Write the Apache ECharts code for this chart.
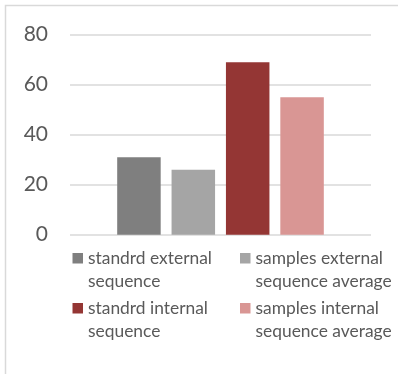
<!DOCTYPE html>
<html>
<head>
<meta charset="utf-8">
<script src="https://cdn.jsdelivr.net/npm/echarts@6/dist/echarts.min.js"></script>
<style>
  html, body { margin: 0; padding: 0; background: #fff; }
  #chart { width: 398px; height: 374px; }
</style>
</head>
<body>
<div id="chart"></div>
<script>
// Sequence comparison: one group, four bars
const categories = ['sequence'];
const seriesNames = [
  'standrd external sequence',
  'samples external sequence average',
  'standrd internal sequence',
  'samples internal sequence average'
];
const seriesValues = [31, 26, 69, 55];
const seriesColors = ['#7f7f7f', '#a5a5a5', '#943634', '#d99694'];
const yTicks = [0, 20, 40, 60, 80];

// Legend labels wrap onto two lines
const legendLines = {
  'standrd external sequence': 'standrd external\nsequence',
  'samples external sequence average': 'samples external\nsequence average',
  'standrd internal sequence': 'standrd internal\nsequence',
  'samples internal sequence average': 'samples internal\nsequence average'
};

const textColor = '#595959';
const gridColor = '#d9d9d9';
const fontFamily = 'Lato, "Noto Sans", sans-serif';

// Square swatch sitting beside the first text line of a two-line entry
const swatch = 'path://M0,6H10.5V16.5H0Z M0,0 M10.5,46';

function legendBlock(left, names) {
  return {
    orient: 'vertical',
    left: left,
    top: 247,
    padding: 0,
    itemGap: 4,
    itemWidth: 10.5,
    itemHeight: 46,
    icon: swatch,
    data: names,
    formatter: n => legendLines[n],
    textStyle: { color: textColor, fontSize: 17.4, lineHeight: 23, fontFamily: fontFamily }
  };
}

const chart = echarts.init(document.getElementById('chart'), null, { renderer: 'canvas' });

chart.setOption({
  animation: false,
  backgroundColor: '#fff',
  grid: { left: 70, right: 27, top: 34.7, bottom: 139.3, containLabel: false },
  xAxis: {
    type: 'category',
    data: categories,
    axisLine: { show: false },
    axisTick: { show: false },
    axisLabel: { show: false }
  },
  yAxis: {
    type: 'value',
    min: yTicks[0],
    max: yTicks[yTicks.length - 1],
    interval: yTicks[1] - yTicks[0],
    axisLine: { show: false },
    axisTick: { show: false },
    axisLabel: { color: textColor, fontSize: 21, fontFamily: fontFamily, margin: 22 },
    splitLine: { lineStyle: { color: gridColor, width: 1.5 } }
  },
  legend: [
    legendBlock(72.5, [seriesNames[0], seriesNames[2]]),
    legendBlock(240, [seriesNames[1], seriesNames[3]])
  ],
  series: seriesNames.map((name, i) => ({
    name: name,
    type: 'bar',
    barWidth: 43.5,
    barGap: '25%',
    itemStyle: { color: seriesColors[i] },
    data: [seriesValues[i]]
  })),
  graphic: [{
    type: 'rect',
    silent: true,
    shape: { x: 5.5, y: 5.5, width: 500, height: 500 },
    style: { fill: 'none', stroke: gridColor, lineWidth: 1.5 }
  }]
});
</script>
</body>
</html>
